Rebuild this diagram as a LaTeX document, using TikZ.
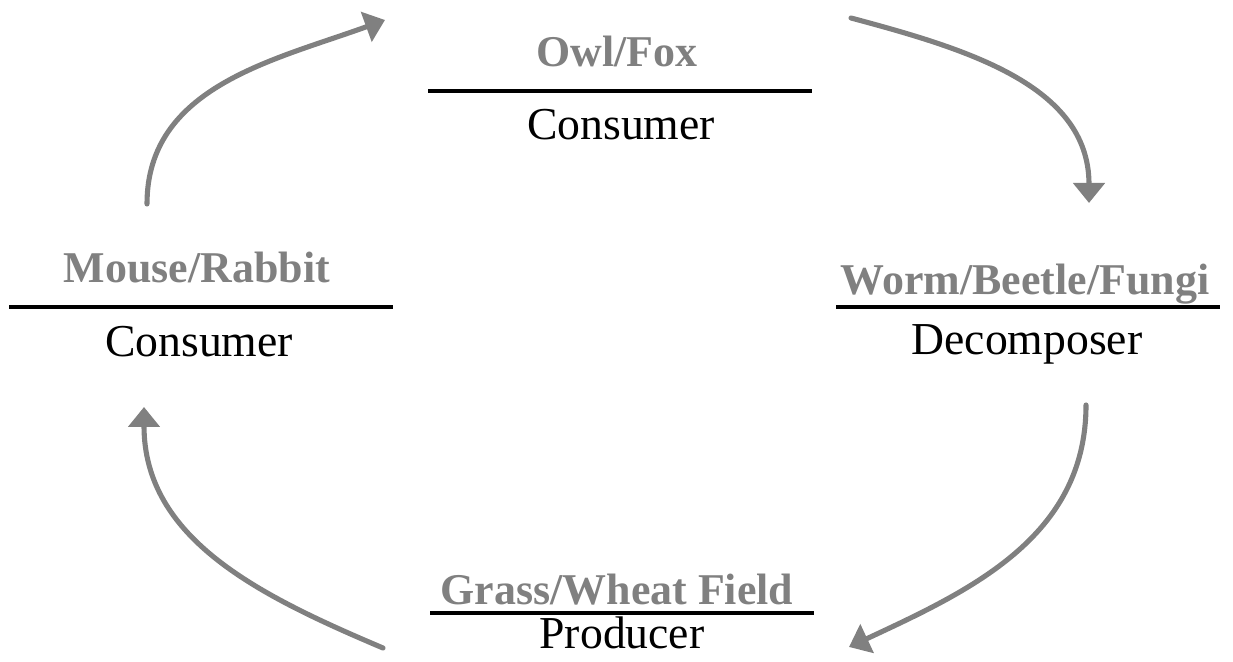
\documentclass[tikz,border=0pt]{standalone}
\usepackage{fontspec}
\setmainfont{Liberation Serif}
\usepackage{tikz}
\usetikzlibrary{arrows.meta, positioning, calc}
\usepackage{xcolor}
\definecolor{cycgray}{HTML}{808080}

\begin{document}
\begin{tikzpicture}[
    x = 0.02cm, y = 0.02cm,
    every node/.style = {align=center, inner sep=0pt},
    species/.style  = {anchor=base, text=cycgray,
                       font=\fontsize{25}{30}\selectfont\bfseries},
    role/.style     = {anchor=base, text=black,
                       font=\fontsize{26}{30}\selectfont},
    sepline/.style  = {draw=black, line width=2.3pt},
    cycarr/.style   = {-{Triangle[length=0.4cm,width=0.62cm]},
                       draw=cycgray, line width=2.9pt, line cap=round},
]
\useasboundingbox (0,0) rectangle (1233,662);

%% Top: owl / fox
\node[species] (owl)     at (617,595) {Owl/Fox};
\node[role]    (owlrole) at (621,522) {Consumer};
\coordinate (owlL) at (428,571);
\coordinate (owlR) at (812,571);
\draw[sepline] (owlL) -- (owlR);

%% Left: mouse / rabbit
\node[species] (mouse)     at (197,379) {Mouse/Rabbit};
\node[role]    (mouserole) at (199,305) {Consumer};
\coordinate (mouseL) at (9,355);
\coordinate (mouseR) at (393,355);
\draw[sepline] (mouseL) -- (mouseR);

%% Right: worm / beetle / fungi
\node[species] (worm)     at (1025,367) {Worm/Beetle/Fungi};
\node[role]    (wormrole) at (1027,307) {Decomposer};
\coordinate (wormL) at (836,355);
\coordinate (wormR) at (1220,355);
\draw[sepline] (wormL) -- (wormR);

%% Bottom: grass / wheat field
\node[species] (grass)     at (617,57) {Grass/Wheat Field};
\node[role]    (grassrole) at (622,13) {Producer};
\coordinate (grassL) at (430,49);
\coordinate (grassR) at (814,49);
\draw[sepline] (grassL) -- (grassR);

%% Cycle arrows
\coordinate (a1s) at (147,458);  \coordinate (a1e) at (385,642);
\coordinate (a2s) at (851,644);  \coordinate (a2e) at (1089,459);
\coordinate (a3s) at (1086,257); \coordinate (a3e) at (849,15);
\coordinate (a4s) at (383,14);   \coordinate (a4e) at (144,255);

\draw[cycarr] (a1s) to[out=90,  in=200] (a1e);
\draw[cycarr] (a2s) to[out=-15, in=90]  (a2e);
\draw[cycarr] (a3s) to[out=-90, in=25]  (a3e);
\draw[cycarr] (a4s) to[out=157, in=-90] (a4e);

\end{tikzpicture}
\end{document}
